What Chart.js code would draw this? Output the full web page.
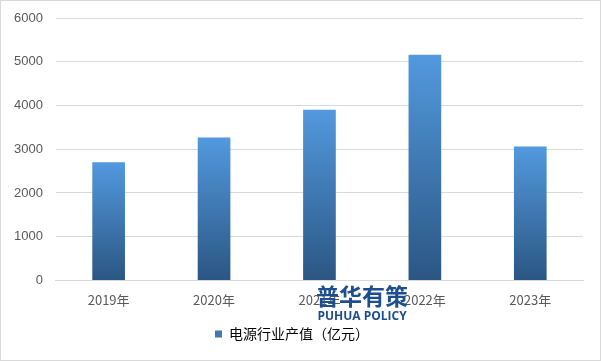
<!DOCTYPE html>
<html><head><meta charset="utf-8">
<script src="https://cdn.jsdelivr.net/npm/chart.js@4/dist/chart.umd.min.js"></script>
<style>
html,body{margin:0;padding:0;background:#fff;}
#wrap{position:absolute;left:0;top:0;width:599px;height:359px;border:1px solid #d9d9d9;}
</style></head>
<body><div id="wrap"><canvas id="c" width="599" height="359"></canvas></div>
<script>
const categories = ["2019年","2020年","2021年","2022年","2023年"];
const values = [2700, 3270, 3900, 5160, 3060];
const seriesName = "电源行业产值（亿元）";
const yTicks = [0,1000,2000,3000,4000,5000,6000];

function barFill(c){
  const chart = c.chart, ys = chart.scales && chart.scales.y;
  if (!ys || !chart.chartArea || c.raw == null) return '#4a8ccf';
  const top = ys.getPixelForValue(c.raw), bot = ys.getPixelForValue(0);
  const g = chart.ctx.createLinearGradient(0, bot, 0, top);
  g.addColorStop(0, '#2b5683');
  g.addColorStop(1, '#5299de');
  return g;
}
const watermark = {
  id:'wm',
  afterDraw(chart){
    const ctx = chart.ctx;
    ctx.save();
    ctx.fillStyle = '#1d4e8f';
    ctx.textAlign = 'center';
    ctx.textBaseline = 'middle';
    ctx.font = 'bold 23px "Noto Sans CJK SC"';
    ctx.fillText('普华有策', 361, 295);
    ctx.font = 'bold 12px "Open Sans"';
    ctx.fillText('PUHUA POLICY', 361, 316);
    ctx.restore();
  }
};
new Chart(document.getElementById('c'), {
  type:'bar',
  data:{labels:categories, datasets:[{label:seriesName, data:values,
    backgroundColor:barFill,
    barPercentage:0.62, categoryPercentage:0.5}]},
  options:{
    responsive:false, animation:false,
    layout:{padding:{left:0,right:17,top:17,bottom:9}},
    scales:{
      x:{grid:{display:false, drawTicks:false}, border:{color:'#d9d9d9'},
         ticks:{color:'#595959', font:{size:13, family:'"Noto Sans CJK SC"'}, padding:12}},
      y:{min:0,max:6000, afterBuildTicks:(s)=>{s.ticks=yTicks.map(v=>({value:v}));},
         afterFit:(s)=>{s.paddingTop=0;},
         grid:{color:'#d9d9d9', drawTicks:false}, border:{display:false},
         ticks:{color:'#595959', font:{size:13, family:'"Liberation Sans"'}, padding:13,
           callback:(v)=>String(v)}}
    },
    plugins:{
      legend:{position:'bottom', labels:{color:'#595959', boxWidth:7, boxHeight:7, padding:7,
        font:{size:14, family:'"Noto Sans CJK SC"'},
        generateLabels:(chart)=>[{text:seriesName, fillStyle:'#3f78b4', strokeStyle:'#3f78b4', lineWidth:0, datasetIndex:0}]}},
      tooltip:{enabled:false}
    }
  },
  plugins:[watermark]
});
</script></body></html>
